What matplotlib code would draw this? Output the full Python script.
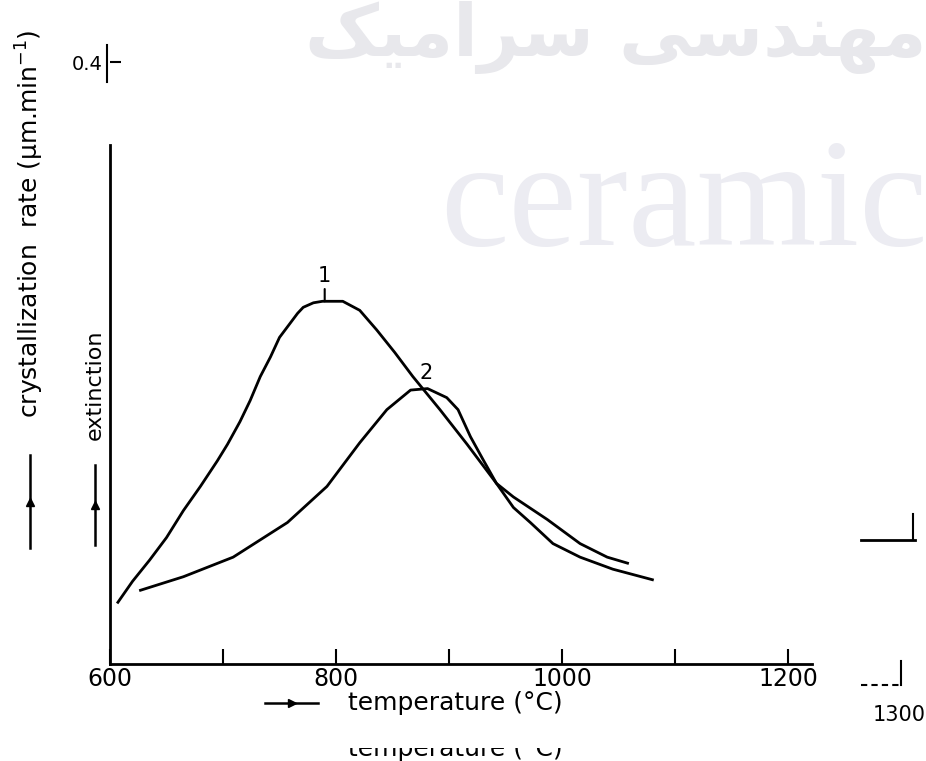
import matplotlib.pyplot as plt
from matplotlib.lines import Line2D
from matplotlib.patches import Rectangle

# curve 1
temp_1 = [607, 620, 635, 650, 665, 680, 695, 704, 715, 724, 733, 742, 750, 757,
          766, 771, 780, 788, 797, 806, 821, 836, 852, 868, 892, 916, 942, 957,
          987, 1016, 1040, 1058]
rate_1 = [0.041, 0.055, 0.069, 0.084, 0.102, 0.118, 0.135, 0.146, 0.161, 0.175,
          0.191, 0.204, 0.217, 0.224, 0.233, 0.237, 0.240, 0.241, 0.241, 0.241,
          0.235, 0.222, 0.207, 0.191, 0.169, 0.146, 0.120, 0.111, 0.096, 0.080,
          0.071, 0.067]

# curve 2
temp_2 = [627, 665, 709, 757, 792, 821, 845, 866, 881, 898, 908, 919, 930, 942,
          957, 972, 992, 1016, 1045, 1080]
rate_2 = [0.049, 0.058, 0.071, 0.094, 0.118, 0.147, 0.169, 0.182, 0.183, 0.177,
          0.169, 0.151, 0.136, 0.120, 0.104, 0.094, 0.080, 0.071, 0.063, 0.056]

x_ticks = [600, 700, 800, 900, 1000, 1100, 1200]
x_tick_labels = ['600', '', '800', '', '1000', '', '1200']
y_ticks = [0.4]
y_tick_labels = ['0.4']

W, H = 926, 761
fig = plt.figure(figsize=(W / 100, H / 100), dpi=100)

# watermark from the scan
fig.text(440 / W, 1 - 245 / H, 'ceramic', fontsize=111, family='Liberation Serif',
         color='#ececf2', ha='left', va='baseline', zorder=0)
persian = '\uFB8F\uFEF4\uFEE3\uFE8D\uFEAE\uFEB3 \uFEF0\uFEB3\uFEAA\uFEE8\uFEEC\uFEE3'
fig.text(305 / W, 1 - 56 / H, persian, fontsize=52, family='DejaVu Sans',
         fontweight='bold', color='#e8e8ec', ha='left', va='baseline', zorder=0)

ax = fig.add_axes([110 / W, 1 - 664 / H, 816 / W, 664 / H])
ax.patch.set_alpha(0)
ax.set_xlim(600, 600 + 816 / 1.13)
ax.set_ylim(0, 664 * 0.4 / 602)

ax.plot(temp_1, rate_1, color='black', lw=2.0, solid_joinstyle='round')
ax.plot(temp_2, rate_2, color='black', lw=2.0, solid_joinstyle='round')
ax.annotate('1', xy=(790, 0.241), xytext=(790, 0.251), fontsize=15, ha='center',
            va='bottom', arrowprops=dict(arrowstyle='-', lw=1.5, shrinkA=0, shrinkB=0))
ax.text(880, 0.187, '2', fontsize=15, ha='center', va='bottom')

for s in ['top', 'right']:
    ax.spines[s].set_visible(False)
ax.spines['left'].set_bounds(0, 0.345)
ax.spines['bottom'].set_bounds(600, 1221)
ax.spines['left'].set_linewidth(2)
ax.spines['bottom'].set_linewidth(2)

ax.set_xticks(x_ticks, x_tick_labels, fontsize=17)
ax.set_yticks(y_ticks, y_tick_labels, fontsize=14)
ax.tick_params(axis='x', direction='in', length=11, width=1.5, pad=2)
ax.tick_params(axis='y', direction='in', length=8, width=1.5, pad=5)

# short bar through the 0.4 tick
ax.plot([597, 597], [0.387, 0.411], color='black', lw=1.5, clip_on=False)

# fragments of the second axis on the right
ax.plot([1265, 1312], [0.0824, 0.0824], color='black', lw=2)
ax.plot([1311, 1311], [0.0824, 0.100], color='black', lw=1.5)
ax.plot([1265, 1300], [-0.014, -0.014], color='black', lw=1.5, ls=(0, (3, 2)),
        clip_on=False)
ax.plot([1300, 1300], [-0.014, 0.002], color='black', lw=1.5, clip_on=False)
ax.text(1298, -0.027, '1300', fontsize=15, ha='center', va='top')

# axis titles with their arrows
fig.text(30 / W, 1 - 224 / H, 'crystallization  rate (\u03bcm.min$^{-1}$)', rotation=90,
         fontsize=18, ha='center', va='center')
fig.text(95 / W, 1 - 385 / H, 'extinction', rotation=90, fontsize=16,
         ha='center', va='center')
fig.text(455 / W, 1 - 703 / H, 'temperature (\u00b0C)', fontsize=18,
         ha='center', va='center')
# second, half-hidden copy at the bottom of the scan
fig.text(455 / W, 1 - 749 / H, 'temperature (\u00b0C)', fontsize=18,
         ha='center', va='center')
fig.add_artist(Rectangle((0.25, 1 - 748 / H), 0.5, 18 / H, transform=fig.transFigure,
                         facecolor='white', edgecolor='none', zorder=5))

for x0, y0, x1, y1 in [(30, 548, 30, 455), (95, 545, 95, 465), (265, 703, 318, 703)]:
    fig.add_artist(Line2D([x0 / W, x1 / W], [1 - y0 / H, 1 - y1 / H], color='black', lw=1.8))
    mx, my = (x0 + x1) / 2, (y0 + y1) / 2
    fig.add_artist(Line2D([mx / W], [1 - my / H], marker='^' if x0 == x1 else '>',
                          color='black', markersize=6))

fig.savefig('out.png', dpi=100)
